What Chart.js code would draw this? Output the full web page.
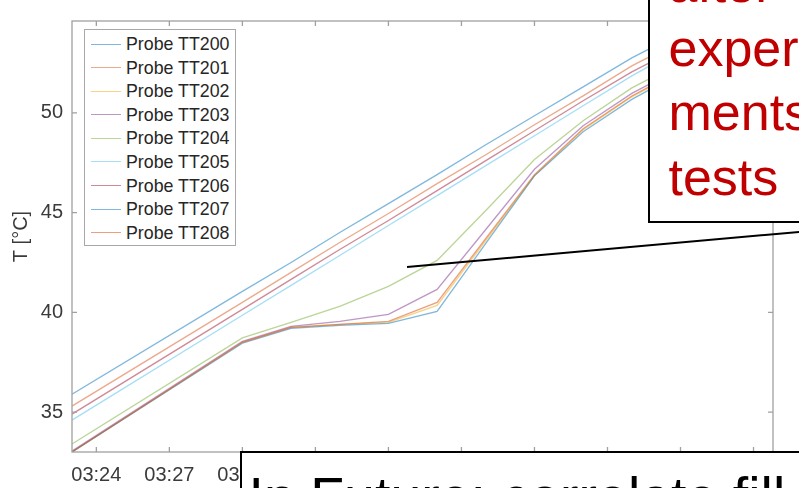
<!DOCTYPE html>
<html>
<head>
<meta charset="utf-8">
<script src="https://cdn.jsdelivr.net/npm/chart.js@4.4.1/dist/chart.umd.min.js"></script>
<style>
  html, body { margin: 0; padding: 0; background: #fff; overflow: hidden; }
  body { width: 799px; height: 488px; position: relative; font-family: "Liberation Sans", Arial, Helvetica, sans-serif; }
  #wrap { position: absolute; left: 0; top: 0; width: 799px; height: 488px; }
  #legenda { position: absolute; left: 84px; top: 29px; width: 152px; height: 217px; box-sizing: border-box;
             border: 1px solid #a8a8a8; background: #fff; padding-top: 2px; }
  .item { height: 23.6px; position: relative; font-size: 17.8px; color: #262626; }
  .item .amostra { position: absolute; left: 6px; top: 11.5px; width: 30px; height: 0; border-top: 1.3px solid; }
  .item span { position: absolute; left: 41px; top: 1px; line-height: 22px; white-space: nowrap; }
  #caixaVermelha { position: absolute; left: 647.5px; top: -100px; width: 400px; height: 322.5px; box-sizing: border-box;
                   border: 2.5px solid #000; background: #fff; }
  #caixaVermelha div { position: absolute; left: 19px; top: 49.7px; font-size: 52px; line-height: 64.3px; color: #c00000; white-space: nowrap; }
  #caixaBaixo { position: absolute; left: 239.5px; top: 451px; width: 700px; height: 120px; box-sizing: border-box;
                border: 2.5px solid #000; background: #fff; }
  #caixaBaixo div { position: absolute; left: 7px; top: 17px; font-size: 55.5px; line-height: 55.5px; color: #000; white-space: nowrap; }
  #seta { position: absolute; left: 0; top: 0; pointer-events: none; }
</style>
</head>
<body>
<div id="wrap"><canvas id="grafico" width="799" height="488"></canvas></div>
<div id="legenda"></div>
<svg id="seta" width="799" height="488"><line x1="407" y1="267" x2="820" y2="230" stroke="#000" stroke-width="2"/></svg>
<div id="caixaVermelha"><div>after<br>experi-<br>ments<br>tests</div></div>
<div id="caixaBaixo"><div>In Future: correlate fill level</div></div>
<script>
// minutes after 03:00
const tempos = [23, 30, 32, 34, 36, 38, 40, 42, 44, 46, 48, 50, 51.8];

const tt200 = [35.9, 41.05, 42.5, 44.0, 45.45, 46.9, 48.4, 49.85, 51.3, 52.75, 54.0, 54.45, 54.6];
const tt201 = [35.3, 40.5, 42.0, 43.5, 44.95, 46.45, 47.9, 49.4, 50.85, 52.35, 53.6, 54.1, 54.3];
const tt202 = [33.0, 38.5, 39.25, 39.4, 39.5, 40.35, 43.6, 46.85, 49.15, 50.8, 52.1, 53.1, 53.7];
const tt203 = [33.05, 38.55, 39.3, 39.55, 39.9, 41.15, 44.15, 47.17, 49.35, 50.97, 52.25, 53.25, 53.85];
const tt204 = [33.4, 38.72, 39.5, 40.3, 41.3, 42.6, 45.1, 47.66, 49.6, 51.25, 52.5, 53.45, 54.0];
const tt205 = [34.6, 39.85, 41.35, 42.85, 44.35, 45.85, 47.35, 48.85, 50.35, 51.85, 53.2, 53.8, 54.0];
const tt206 = [34.9, 40.15, 41.65, 43.15, 44.6, 46.1, 47.6, 49.1, 50.6, 52.05, 53.3, 53.9, 54.1];
const tt207 = [33.0, 38.45, 39.2, 39.35, 39.45, 40.05, 43.45, 46.84, 49.05, 50.67, 52.0, 53.0, 53.6];
const tt208 = [33.0, 38.5, 39.25, 39.4, 39.55, 40.5, 43.7, 46.9, 49.2, 50.84, 52.15, 53.15, 53.75];

const nomes = ['Probe TT200', 'Probe TT201', 'Probe TT202', 'Probe TT203', 'Probe TT204',
               'Probe TT205', 'Probe TT206', 'Probe TT207', 'Probe TT208'];
const series = [tt200, tt201, tt202, tt203, tt204, tt205, tt206, tt207, tt208];
const cores = ['rgba(0,114,189,0.5)', 'rgba(217,83,25,0.5)', 'rgba(237,177,32,0.55)', 'rgba(126,47,142,0.5)',
               'rgba(119,172,48,0.5)', 'rgba(77,190,238,0.5)', 'rgba(162,20,47,0.5)', 'rgba(0,114,189,0.5)',
               'rgba(217,83,25,0.55)'];

const xTicks = [24, 27, 30, 33, 36, 39, 42, 45, 48, 51];
const xTickLabels = ['03:24', '03:27', '03:30', '03:33', '03:36', '03:39', '03:42', '03:45', '03:48', '03:51'];
const yTicks = [35, 40, 45, 50];

const fonte = "'Liberation Sans', Arial, Helvetica, sans-serif";
const corEixo = '#a0a0a0';

// caixa estilo MATLAB com ticks para dentro
const caixaEixos = {
  id: 'caixaEixos',
  afterDatasetsDraw(chart) {
    const { ctx, chartArea: a, scales: { x, y } } = chart;
    ctx.save();
    ctx.strokeStyle = corEixo;
    ctx.lineWidth = 1.3;
    ctx.strokeRect(a.left, a.top, a.right - a.left, a.bottom - a.top);
    ctx.beginPath();
    x.ticks.forEach(t => {
      const px = x.getPixelForValue(t.value);
      ctx.moveTo(px, a.bottom); ctx.lineTo(px, a.bottom - 5);
      ctx.moveTo(px, a.top); ctx.lineTo(px, a.top + 5);
    });
    y.ticks.forEach(t => {
      const py = y.getPixelForValue(t.value);
      ctx.moveTo(a.left, py); ctx.lineTo(a.left + 5, py);
      ctx.moveTo(a.right, py); ctx.lineTo(a.right - 5, py);
    });
    ctx.stroke();
    ctx.restore();
  }
};

const datasets = series.map((valores, i) => ({
  label: nomes[i],
  data: valores.map((v, j) => ({ x: tempos[j], y: v })),
  borderColor: cores[i],
  backgroundColor: cores[i],
  borderWidth: 1.3,
  pointRadius: 0,
  tension: 0,
  fill: false,
  order: series.length - 1 - i
}));

const grafico = new Chart(document.getElementById('grafico'), {
  type: 'line',
  data: { datasets },
  options: {
    responsive: false,
    animation: false,
    events: [],
    layout: { padding: { top: 13, right: 26, left: 0, bottom: 0 } },
    plugins: { legend: { display: false }, tooltip: { enabled: false } },
    scales: {
      x: {
        type: 'linear',
        min: 23,
        max: 51.8,
        afterBuildTicks: s => { s.ticks = xTicks.map(v => ({ value: v })); },
        afterFit: s => { s.height = 36; },
        grid: { display: false, drawTicks: false },
        border: { display: false },
        ticks: {
          autoSkip: false, maxRotation: 0, padding: 11,
          color: '#3a3a3a', font: { family: fonte, size: 20 },
          callback: (v, i) => xTickLabels[i]
        }
      },
      y: {
        type: 'linear',
        min: 33,
        max: 54.6,
        afterBuildTicks: s => { s.ticks = yTicks.map(v => ({ value: v })); },
        afterFit: s => { s.width = 72; },
        grid: { display: false, drawTicks: false },
        border: { display: false },
        ticks: { padding: 9, color: '#3a3a3a', font: { family: fonte, size: 20 } },
        title: {
          display: true, text: 'T [°C]', color: '#3a3a3a',
          font: { family: fonte, size: 20 }, padding: { top: 9, bottom: 0 }
        }
      }
    }
  },
  plugins: [caixaEixos]
});

// legenda em HTML dentro da área do gráfico
const legenda = document.getElementById('legenda');
grafico.data.datasets.forEach(ds => {
  const item = document.createElement('div');
  item.className = 'item';
  item.innerHTML = `<div class="amostra" style="border-color:${ds.borderColor}"></div><span>${ds.label}</span>`;
  legenda.appendChild(item);
});
</script>
</body>
</html>
